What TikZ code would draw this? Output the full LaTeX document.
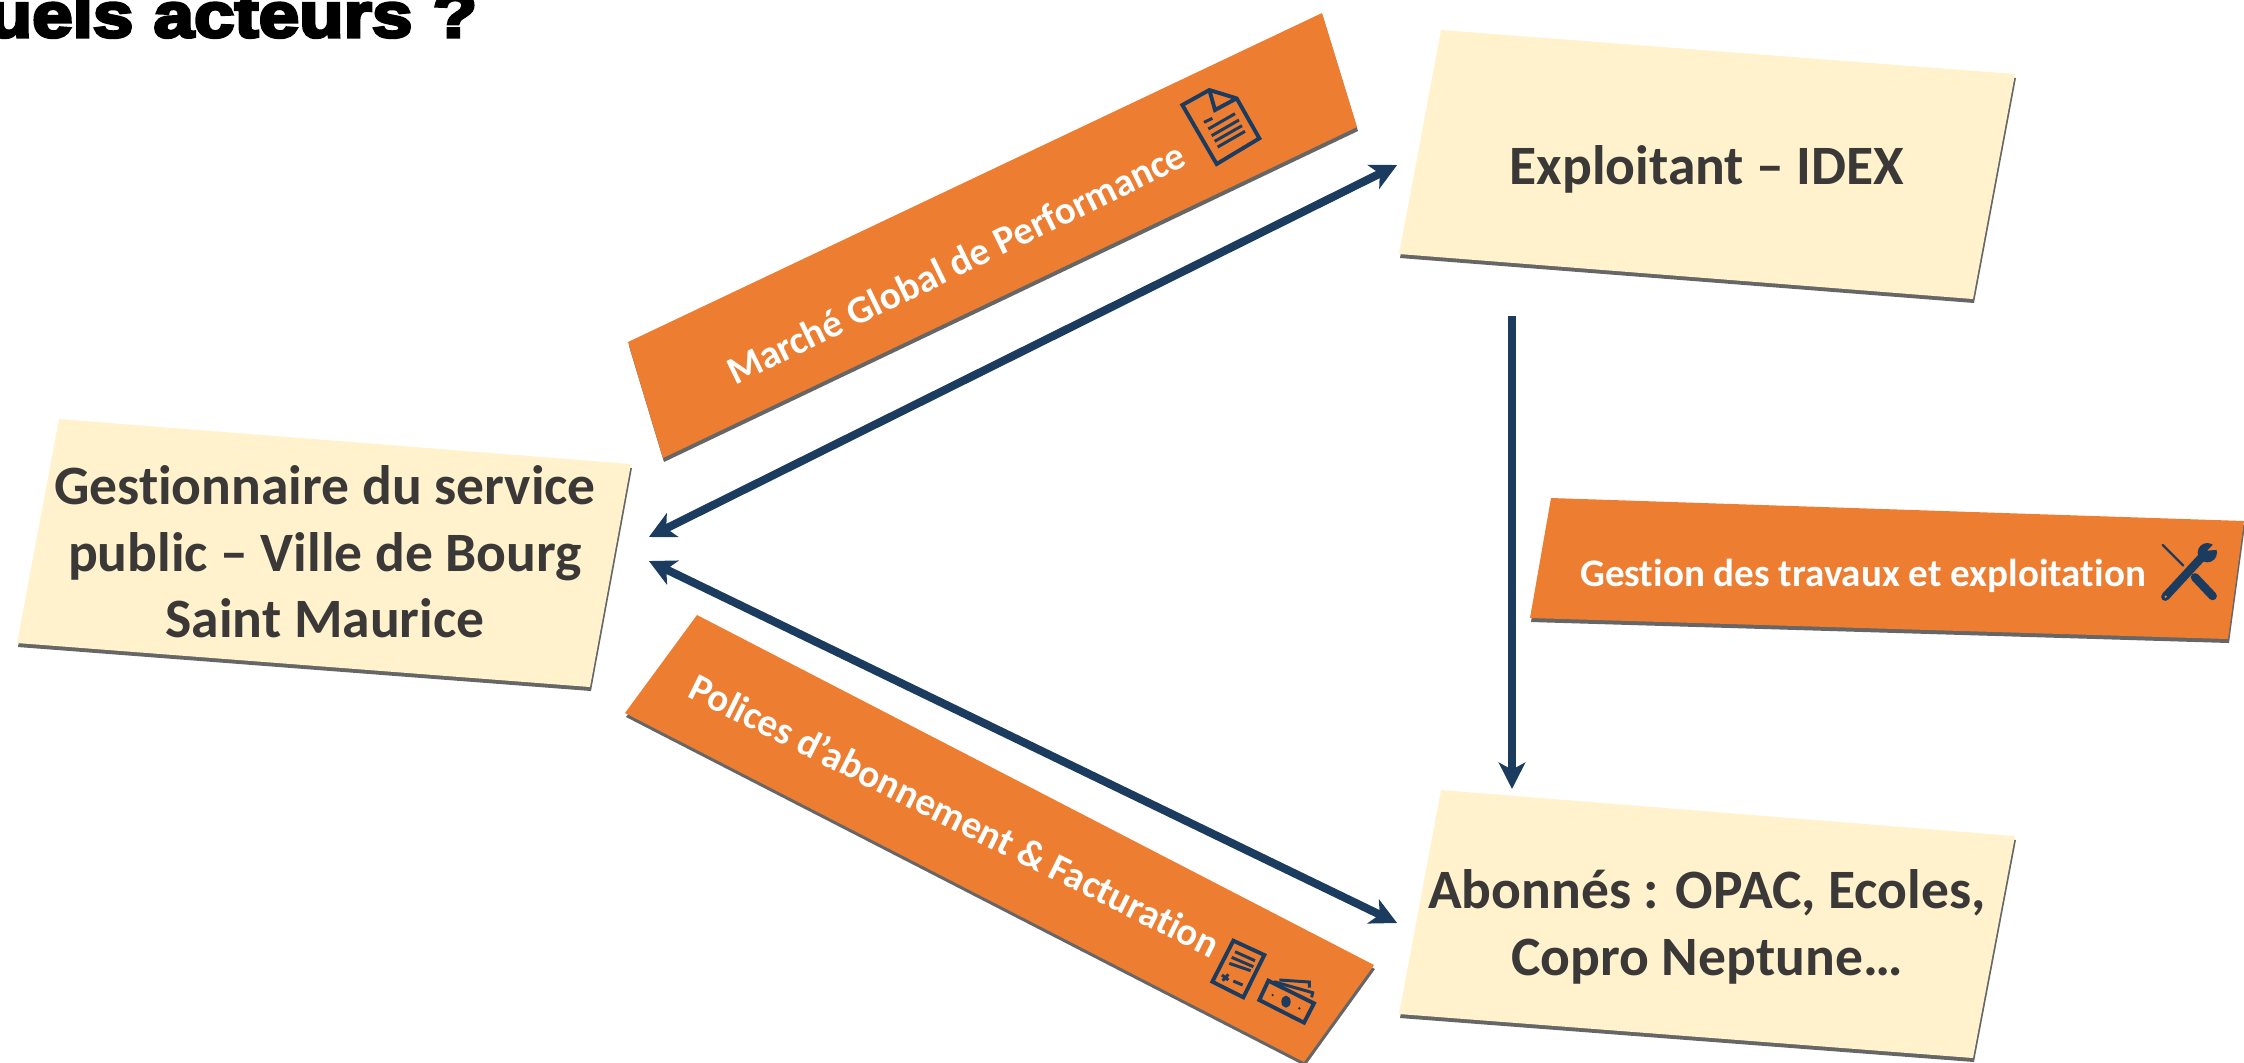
\documentclass[tikz,border=0pt]{standalone}
\usepackage{fontspec}
\setmainfont[Ligatures={NoCommon}]{Carlito}
\newfontfamily\titrefont[BoldFont={Liberation Sans Bold},BoldFeatures={FakeBold=5,FakeStretch=1.15}]{Liberation Sans}
\usetikzlibrary{arrows.meta,positioning}
\definecolor{orange1}{HTML}{ED7D31}
\definecolor{jaune1}{HTML}{FFF2CC}
\definecolor{marine}{HTML}{1B3C5E}
\definecolor{encre}{HTML}{3B3838}
\definecolor{ombre1}{HTML}{666666}
\newcommand{\plaque}[5]{%
  \fill[ombre1,shift={(1,4)}] #2 -- #3 -- #4 -- #5 -- cycle;
  \fill[#1] #2 -- #3 -- #4 -- #5 -- cycle;}
\tikzset{
  carte/.style={inner sep=0pt,align=center,text=encre,font=\fontsize{15.8}{18.9}\selectfont\bfseries},
  bandeau/.style={inner sep=0pt,text=white,font=\fontsize{11.1}{12}\selectfont\bfseries},
  fleche/.style={draw=marine,line width=2.3pt},
  icone/.style={draw=marine,line width=1.1pt,line join=miter},
  trait/.style={draw=marine,line width=0.85pt}
}
\begin{document}
\begin{tikzpicture}[x=0.01cm,y=-0.01cm,>={Stealth[length=7.5pt,width=7.5pt,inset=2pt]}]
\useasboundingbox (0,0) rectangle (2244,1062);

% titre
\node[anchor=base west,inner sep=0pt,font=\fontsize{18}{20}\titrefont\bfseries] (titre) at (-13,37) {uels acteurs ?};

% les plaques
\plaque{jaune1}{(1441,30)}{(2015,74)}{(1973,299)}{(1399,254)}
\plaque{jaune1}{(59,419)}{(631,464)}{(590,687)}{(17,643)}
\plaque{jaune1}{(1441,790)}{(2015,836)}{(1973,1058)}{(1399,1014)}
\plaque{orange1}{(1322,13)}{(1357,127)}{(663,458)}{(628,342)}
\plaque{orange1}{(1551,498)}{(2244,521)}{(2228,639)}{(1530,618)}
\plaque{orange1}{(697,615)}{(1374,965)}{(1304,1062)}{(625,713)}

% les acteurs
\node[carte,minimum width=6.18cm] (expl) at (1707,169) {Exploitant -- IDEX};
\node[carte,minimum width=6.46cm] (gest) at (325,552) {Gestionnaire du service\\public -- Ville de Bourg\\Saint Maurice};
\node[carte,minimum width=6.18cm] (abon) at (1707,927) {Abonnés : OPAC, Ecoles,\\Copro Neptune…};
\coordinate (expl-bas) at (1512,316);
\coordinate (abon-haut) at (1512,789);

% les liens
\draw[fleche,<->] ([yshift=1.5mm]gest.east) -- ([yshift=0.4mm]expl.west);
\draw[fleche,<->] ([yshift=-0.9mm]gest.east) -- ([yshift=0.4mm]abon.west);
\draw[fleche,->]  (expl-bas) -- (abon-haut);

% les textes des bandeaux
\node[bandeau,rotate=26] (marche) at (956,263) {Marché Global de Performance};
\node[bandeau] (travaux) at (1863,576) {Gestion des travaux et exploitation};
\node[bandeau,rotate=-26.5] (polices) at (955,815) {Polices d’abonnement \& Facturation};

% icone document
\begin{scope}[shift={(1120,60)},scale=1/3]
  \draw[icone] (187,135) -- (268,90) -- (350,115) -- (418,235) -- (290,312) -- cycle;
  \draw[icone] (268,90) -- (285,150) -- (350,115);
  \draw[trait] (252,187) -- (277,175);
  \draw[trait] (265,207) -- (345,161);
  \draw[trait] (275,227) -- (357,180);
  \draw[trait] (284,244) -- (366,197);
  \draw[trait] (293,261) -- (375,214);
\end{scope}

% icone outils
\begin{scope}[shift={(2100,500)},scale=1/3]
  \draw[marine,line width=0.65pt,line cap=round] (188,135) -- (250,197);
  \draw[marine,line width=2.4pt,line cap=round] (285,232) -- (338,288);
  \draw[marine,line width=2.4pt,line cap=round] (196,290) -- (305,172);
  \fill[marine] (322,158) circle (29);
  \fill[orange1] (322,152) -- (345,128) -- (358,148) -- cycle;
  \fill[orange1] (197,290) circle (4);
\end{scope}

% icones facture et billets
\begin{scope}[shift={(1180,920)},scale=1/3]
  \draw[icone] (160,62) -- (253,105) -- (190,232) -- (97,185) -- cycle;
  \draw[trait] (165,95) -- (225,122);
  \draw[trait] (155,112) -- (220,140);
  \draw[trait] (148,130) -- (212,152);
  \draw[trait] (126,165) -- (145,180) (145,163) -- (128,182);
  \draw[trait] (160,183) -- (188,195);
  \draw[icone] (265,182) -- (402,250) -- (372,308) -- (238,240) -- cycle;
  \fill[marine] (318,245) ellipse (14 and 18);
  \fill[marine] (278,225) circle (4) (358,265) circle (4);
  \draw[trait] (298,180) -- (388,186) -- (388,203);
  \draw[trait] (282,185) -- (398,218) -- (395,232);
\end{scope}
\end{tikzpicture}
\end{document}
